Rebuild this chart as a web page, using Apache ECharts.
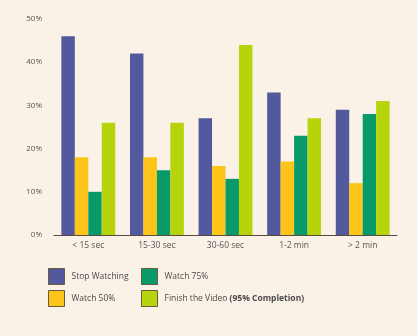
<!DOCTYPE html>
<html>
<head>
<meta charset="utf-8">
<script src="https://cdn.jsdelivr.net/npm/echarts@6/dist/echarts.min.js"></script>
<style>
html,body{margin:0;padding:0;background:#faf2e6;}
#c{width:417px;height:336px;}
</style>
</head>
<body>
<div id="c"></div>
<script>
var categories = ['< 15 sec', '15-30 sec', '30-60 sec', '1-2 min', '> 2 min'];
var stopWatching = [46, 42, 27, 33, 29];
var watch50 = [18, 18, 16, 17, 12];
var watch75 = [10, 15, 13, 23, 28];
var finishVideo = [26, 26, 44, 27, 31];
var yTicks = [0, 10, 20, 30, 40, 50];
var seriesNames = ['Stop Watching', 'Watch 50%', 'Watch 75%', 'Finish the Video (95% Completion)'];
var colors = ['#525a9d', '#fdc51a', '#089a69', '#b6d40c'];

var chart = echarts.init(document.getElementById('c'));
var font = 'Open Sans';
var legendCommon = {
  orient: 'vertical',
  top: 268,
  padding: 0,
  itemWidth: 16,
  itemHeight: 16,
  itemGap: 5,
  icon: 'rect',
  selectedMode: false,
  itemStyle: { borderColor: '#6b5a3e', borderWidth: 1 },
  textStyle: {
    fontFamily: font, fontSize: 8.5, color: '#4a4a4a', padding: [0, 0, 0, 2],
    rich: { b: { fontFamily: font, fontSize: 8.5, fontWeight: 'bold', color: '#4a4a4a' } }
  },
  formatter: function (name) {
    var i = name.indexOf(' (');
    if (i >= 0) return name.slice(0, i) + ' {b|' + name.slice(i + 1) + '}';
    return name;
  }
};
var legend1 = Object.assign({}, legendCommon, { left: 48, data: [seriesNames[0], seriesNames[1]] });
var legend2 = Object.assign({}, legendCommon, { left: 141, data: [seriesNames[2], seriesNames[3]] });

chart.setOption({
  backgroundColor: '#faf2e6',
  animation: false,
  color: colors,
  legend: [legend1, legend2],
  grid: { left: 54, right: 20, top: 19, bottom: 101 },
  xAxis: {
    type: 'category',
    data: categories,
    axisLine: { show: true, lineStyle: { color: '#5a4a3e', width: 1 } },
    axisTick: { show: false },
    axisLabel: { fontFamily: font, fontSize: 8.5, color: '#555', margin: 6 }
  },
  yAxis: {
    type: 'value',
    min: 0, max: 50, interval: 10,
    splitLine: { show: false },
    axisLine: { show: false },
    axisTick: { show: false },
    axisLabel: { fontFamily: font, fontSize: 8, color: '#555', margin: 12, formatter: '{value}%' }
  },
  series: [
    { name: seriesNames[0], type: 'bar', data: stopWatching, barGap: '0%', barCategoryGap: '21.5%' },
    { name: seriesNames[1], type: 'bar', data: watch50 },
    { name: seriesNames[2], type: 'bar', data: watch75 },
    { name: seriesNames[3], type: 'bar', data: finishVideo }
  ]
});
</script>
</body>
</html>
